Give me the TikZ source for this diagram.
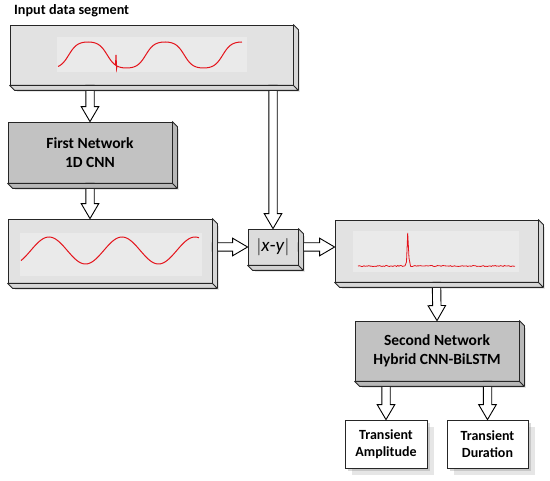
\documentclass[tikz,border=0pt]{standalone}
\usepackage{fontspec}
\setmainfont{Carlito}
\usetikzlibrary{calc,shadows}
\definecolor{netgray}{HTML}{C2C2C2}
\definecolor{siggray}{HTML}{E2E2E2}
\definecolor{xygray}{HTML}{DCDCDC}
\definecolor{plotbg}{HTML}{EAEAEA}
\definecolor{sigred}{HTML}{E4141C}
\tikzset{
  base/.style={draw=black!85, line width=0.8pt, inner sep=0pt, align=center,
    font=\bfseries\fontsize{15.5}{19}\selectfont,
    drop shadow={shadow xshift=7pt, shadow yshift=-7pt, opacity=0.2}},
  sigbox/.style={base, fill=siggray},
  netbox/.style={base, fill=netgray},
  xybox/.style={base, fill=xygray, font=\fontsize{19}{20}\selectfont},
  outbox/.style={base, fill=white, font=\bfseries\fontsize{14}{17}\selectfont,
    drop shadow={shadow xshift=3pt, shadow yshift=-3pt, opacity=0.3}},
  arrowsty/.style={draw=black, fill=white, line width=0.9pt, line join=miter},
  sideface/.style={draw=black!85, line width=0.8pt, line join=round},
  wave/.style={sigred, line width=1pt},
  plotarea/.style={fill=plotbg},
}
\newcommand\sides[2]{%
  \filldraw[sideface, fill=#2] (#1.north east) -- ++(5pt,-5pt)
    -- ($(#1.south east)+(5pt,-5pt)$) -- ($(#1.south west)+(5pt,-5pt)$)
    -- (#1.south west) -- (#1.south east) -- cycle
    (#1.south east) -- ++(5pt,-5pt);}
\newcommand\barrow[2]{%
  \draw[arrowsty] let \p1=#1, \p2=#2,
    \n1={atan2(\y2-\y1,\x2-\x1)}, \n2={veclen(\x2-\x1,\y2-\y1)} in
    [shift={(\p1)}, rotate=\n1]
    (0pt,4.2pt) -- ({\n2*1pt-15pt},4.2pt) -- ({\n2*1pt-15pt},8.8pt) -- ({\n2*1pt},0pt)
    -- ({\n2*1pt-15pt},-8.8pt) -- ({\n2*1pt-15pt},-4.2pt) -- (0pt,-4.2pt) -- cycle;}
\begin{document}
\begin{tikzpicture}[x=1pt, y=-1pt]
\useasboundingbox (0,0) rectangle (550,481);
\pgfmathsetseed{7}
% title
\node[anchor=base west, inner sep=0pt, font=\bfseries\fontsize{14.2}{17}\selectfont] (title) at (14,15) {Input data segment};
\path
  node[sigbox, minimum width=283pt, minimum height=60pt] (top) at (151.5,55) {}
  node[netbox, minimum width=164pt, minimum height=61pt] (fn) at (90,152.5) {First Network\\1D CNN}
  node[sigbox, minimum width=204pt, minimum height=64pt] (sig2) at (110,251) {}
  node[xybox, minimum width=50pt, minimum height=36pt] (xy) at (273,247) {$|$\textit{x}-\textit{y}$|$}
  node[sigbox, minimum width=203pt, minimum height=62pt] (sig3) at (436.5,251) {}
  node[netbox, minimum width=164pt, minimum height=60pt] (sn) at (437,351) {Second Network\\Hybrid CNN-BiLSTM}
  node[outbox, minimum width=82pt, minimum height=48pt] (ta) at (386,444) {Transient\\Amplitude}
  node[outbox, minimum width=81pt, minimum height=48pt] (td) at (487.5,444) {Transient\\Duration};
% block arrows
\barrow{(fn.north |- top.south)}{(fn.north)}
\barrow{(xy.north |- top.south)}{(xy.north)}
\barrow{(fn.south)}{(fn.south |- sig2.north)}
\barrow{(sig2.east |- xy.west)}{(xy.west)}
\barrow{(xy.east)}{(sig3.west |- xy.east)}
\barrow{(sig3.south)}{(sn.north)}
\barrow{(ta.north |- sn.south)}{(ta.north)}
\barrow{(td.north |- sn.south)}{(td.north)}
% side faces
\sides{top}{siggray!95!black}
\sides{fn}{netgray!95!black}
\sides{sig2}{siggray!95!black}
\sides{xy}{xygray!95!black}
\sides{sig3}{siggray!95!black}
\sides{sn}{netgray!95!black}
% plot areas
\fill[plotarea] (57,37) rectangle (247,72);
\fill[plotarea] (20,233) rectangle (202,276);
\fill[plotarea] (353,231) rectangle (519,272);
% waves
\draw[wave] plot[domain=58:115.5, samples=60] (\x, {55 - 13*tanh(1.3*cos((\x-88)*4.6753))/tanh(1.3)})
  -- (116,55) -- (116.6,68.3)
  -- plot[domain=117:242, samples=110] (\x, {55 - 13*tanh(1.3*cos((\x-88)*4.6753))/tanh(1.3)});
\draw[wave] plot[domain=21:199, samples=140] (\x, {250.5 - 13.5*cos((\x-49)*4.9315)});
\draw[wave, line width=0.8pt] plot[domain=358:405, samples=40] (\x, {266+0.5*rand})
  -- (406.5,262) -- (407.7,233) -- (409,258) -- (410.5,266)
  -- plot[domain=411:515, samples=80] (\x, {266+0.5*rand});
\end{tikzpicture}
\end{document}
